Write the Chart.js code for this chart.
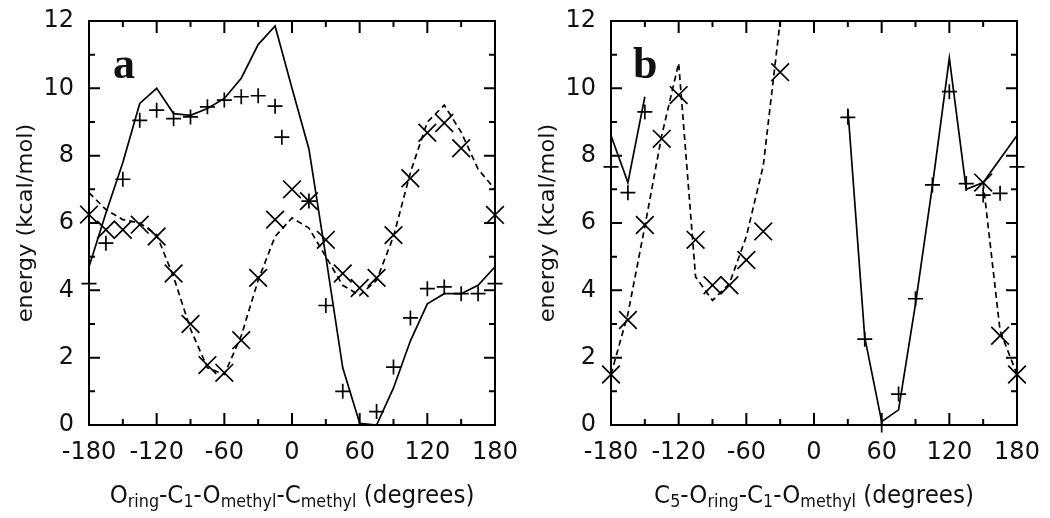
<!DOCTYPE html>
<html>
<head>
<meta charset="utf-8">
<script src="https://cdn.jsdelivr.net/npm/chart.js@4.4.0/dist/chart.umd.min.js"></script>
<style>
  html, body { margin: 0; padding: 0; background: #fff; }
  #wrap { position: relative; width: 1050px; height: 518px; }
  canvas { position: absolute; top: 0; }
</style>
</head>
<body>
<div id="wrap">
  <canvas id="chartA" width="525" height="518" style="left:0"></canvas>
  <canvas id="chartB" width="525" height="518" style="left:525px"></canvas>
</div>
<script>
// dihedral angles (degrees) of the scan
const angles = [-180, -165, -150, -135, -120, -105, -90, -75, -60, -45, -30, -15, 0,
                15, 30, 45, 60, 75, 90, 105, 120, 135, 150, 165, 180];

// panel a
const aSolid  = [4.7, 6.3, 7.8, 9.55, 10.0, 9.25, 9.2, 9.4, 9.7, 10.3, 11.3, 11.85, 10.0,
                 8.2, 5.0, 1.7, 0.05, 0.0, 1.1, 2.5, 3.6, 3.9, 3.9, 4.15, 4.7];
const aDashed = [6.9, 6.4, 6.1, 6.0, 5.65, 4.4, 2.85, 1.7, 1.5, 2.65, 4.3, 5.6, 6.15,
                 5.85, 5.0, 4.15, 3.85, 4.3, 5.6, 7.5, 9.0, 9.5, 8.7, 7.6, 7.0];
const aPlusX  = [-180, -165, -150, -135, -120, -105, -90, -75, -60, -45, -30, -15, -9,
                 15, 30, 45, 75, 90, 105, 120, 135, 150, 165, 180];
const aPlusY  = [4.2, 5.4, 7.3, 9.05, 9.35, 9.1, 9.15, 9.45, 9.65, 9.75, 9.78, 9.47, 8.55,
                 6.65, 3.55, 1.0, 0.4, 1.72, 3.18, 4.05, 4.1, 3.9, 3.9, 4.2];
const aCrossX = [-180, -165, -150, -135, -120, -105, -90, -75, -60, -45, -30, -15, 0,
                 15, 30, 45, 60, 75, 90, 105, 120, 135, 150, 180];
const aCrossY = [6.25, 5.8, 5.8, 5.95, 5.6, 4.5, 3.0, 1.78, 1.55, 2.52, 4.37, 6.1, 7.0,
                 6.65, 5.5, 4.5, 4.07, 4.37, 5.64, 7.33, 8.68, 8.97, 8.22, 6.24];

// panel b (null = no value / off the plot)
const bSolid  = [8.6, 7.2, 9.75, null, null, null, null, null, null, null, null, null, null,
                 null, 9.4, 2.6, 0.1, 0.45, 3.6, 7.1, 10.9, 7.0, 7.2, 7.9, 8.6];
const bDashed = [1.5, 3.3, 5.9, 8.6, 10.75, 4.4, 3.7, 4.2, 5.6, 7.7, 12.0, null, null,
                 null, null, null, null, null, null, null, null, null, 7.2, 2.8, 1.5];
const bPlusX  = [-180, -165, -150, 30, 45, 60, 75, 90, 105, 120, 135, 150, 165, 180];
const bPlusY  = [7.67, 6.9, 9.3, 9.14, 2.55, 0.0, 0.92, 3.75, 7.13, 9.9, 7.17, 6.83, 6.88, 7.67];
const bCrossX = [-180, -165, -150, -135, -120, -105, -90, -75, -60, -45, -30, 150, 165, 180];
const bCrossY = [1.5, 3.12, 5.94, 8.5, 9.8, 5.5, 4.15, 4.15, 4.9, 5.75, 10.48, 7.2, 2.65, 1.5];

// axes
const xMin = -180, xMax = 180, xMajor = 60, xMinor = 30;
const yMin = 0, yMax = 12, yMajor = 2, yMinor = 1;

// titles: [text, isSubscript]
const aXTitle = [['O', 0], ['ring', 1], ['-C', 0], ['1', 1], ['-O', 0], ['methyl', 1],
                 ['-C', 0], ['methyl', 1], [' (degrees)', 0]];
const bXTitle = [['C', 0], ['5', 1], ['-O', 0], ['ring', 1], ['-C', 0], ['1', 1],
                 ['-O', 0], ['methyl', 1], [' (degrees)', 0]];
const yTitle = 'energy (kcal/mol)';

Chart.defaults.font.family = '"DejaVu Sans", sans-serif';
Chart.defaults.color = '#111';

function pts(xs, ys) {
  return xs.map((v, i) => ({ x: v, y: ys[i] }));
}

function drawParts(ctx, parts, cx, baseline) {
  const main = '23px "DejaVu Sans"', sub = '16px "DejaVu Sans"';
  let w = 0;
  parts.forEach(([t, s]) => { ctx.font = s ? sub : main; w += ctx.measureText(t).width; });
  ctx.save();
  ctx.translate(cx - w / 2, baseline);
  ctx.scale(1, 1.1);
  let xx = 0;
  parts.forEach(([t, s]) => {
    ctx.font = s ? sub : main;
    ctx.fillText(t, xx, s ? 3.5 : 0);
    xx += ctx.measureText(t).width;
  });
  ctx.restore();
}

const frame = {
  id: 'frame',
  afterDraw(chart, args, opts) {
    const { ctx, chartArea: a, scales: { x, y } } = chart;
    ctx.save();
    ctx.strokeStyle = '#000';
    ctx.lineWidth = 2;
    ctx.strokeRect(a.left, a.top, a.right - a.left, a.bottom - a.top);
    ctx.beginPath();
    for (let v = xMin; v <= xMax; v += xMinor) {
      const px = x.getPixelForValue(v);
      const len = v % xMajor === 0 ? 12 : 6;
      ctx.moveTo(px, a.bottom); ctx.lineTo(px, a.bottom - len);
      ctx.moveTo(px, a.top); ctx.lineTo(px, a.top + len);
    }
    for (let v = yMin; v <= yMax; v += yMinor) {
      const py = y.getPixelForValue(v);
      const len = v % yMajor === 0 ? 11 : 6;
      ctx.moveTo(a.left, py); ctx.lineTo(a.left + len, py);
      ctx.moveTo(a.right, py); ctx.lineTo(a.right - len, py);
    }
    ctx.stroke();

    ctx.fillStyle = '#111';
    ctx.textBaseline = 'alphabetic';
    drawParts(ctx, opts.xTitle, (a.left + a.right) / 2, 503);

    // y title
    ctx.save();
    ctx.translate(a.left - 62, (a.top + a.bottom) / 2);
    ctx.rotate(-Math.PI / 2);
    ctx.scale(1.1, 1);
    ctx.font = '20.5px "DejaVu Sans"';
    ctx.textAlign = 'center';
    ctx.textBaseline = 'middle';
    ctx.fillText(yTitle, 0, 0);
    ctx.restore();

    // panel letter
    ctx.font = 'bold 44px "Liberation Serif"';
    ctx.textAlign = 'left';
    ctx.fillText(opts.letter, a.left + opts.letterDx, 78);
    ctx.restore();
  }
};

function makeChart(id, solid, dashed, plusX, plusY, crossX, crossY, opt) {
  const ctx = document.getElementById(id).getContext('2d');
  return new Chart(ctx, {
    type: 'line',
    data: {
      datasets: [
        {
          data: pts(angles, solid),
          borderColor: '#000',
          borderWidth: 1.7,
          pointRadius: 0,
          tension: 0,
          spanGaps: false,
          fill: false
        },
        {
          data: pts(angles, dashed),
          borderColor: '#000',
          borderWidth: 1.7,
          borderDash: [6, 4],
          pointRadius: 0,
          tension: 0,
          spanGaps: false,
          fill: false
        },
        {
          type: 'scatter',
          data: pts(plusX, plusY),
          pointStyle: 'cross',
          pointRadius: 7.5,
          pointBorderWidth: 1.7,
          pointBorderColor: '#000',
          borderColor: '#000',
          clip: false
        },
        {
          type: 'scatter',
          data: pts(crossX, crossY),
          pointStyle: 'crossRot',
          pointRadius: 12.5,
          pointBorderWidth: 1.7,
          pointBorderColor: '#000',
          borderColor: '#000',
          clip: false
        }
      ]
    },
    options: {
      responsive: false,
      animation: false,
      devicePixelRatio: 1,
      events: [],
      layout: {
        padding: { top: 21, right: opt.padRight, left: 0, bottom: 0 }
      },
      scales: {
        x: {
          type: 'linear',
          min: xMin,
          max: xMax,
          grid: { display: false, drawTicks: false },
          border: { display: false },
          ticks: {
            stepSize: xMajor,
            padding: 13,
            font: { size: 24 },
            maxRotation: 0,
            color: '#111'
          },
          afterFit: (scale) => {
            scale.height = 93;
            scale.paddingLeft = 0;
            scale.paddingRight = 0;
          }
        },
        y: {
          type: 'linear',
          min: yMin,
          max: yMax,
          grid: { display: false, drawTicks: false },
          border: { display: false },
          ticks: {
            stepSize: yMajor,
            padding: 15,
            font: { size: 24 },
            color: '#111'
          },
          afterFit: (scale) => {
            scale.width = opt.yWidth;
            scale.paddingTop = 0;
            scale.paddingBottom = 0;
          }
        }
      },
      plugins: {
        legend: { display: false },
        tooltip: { enabled: false },
        frame: { xTitle: opt.xTitle, letter: opt.letter, letterDx: opt.letterDx }
      }
    },
    plugins: [frame]
  });
}

makeChart('chartA', aSolid, aDashed, aPlusX, aPlusY, aCrossX, aCrossY,
  { padRight: 30, yWidth: 89, xTitle: aXTitle, letter: 'a', letterDx: 24 });
makeChart('chartB', bSolid, bDashed, bPlusX, bPlusY, bCrossX, bCrossY,
  { padRight: 33, yWidth: 86, xTitle: bXTitle, letter: 'b', letterDx: 22 });
</script>
</body>
</html>
